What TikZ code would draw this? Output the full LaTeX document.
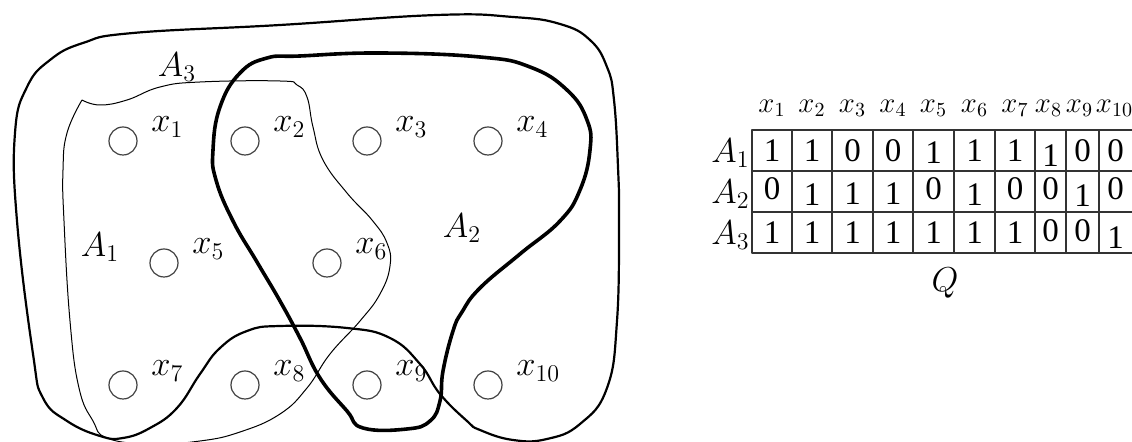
\documentclass[tikz,border=0pt]{standalone}
\usepackage{fontspec}
\setmainfont{Liberation Serif}
\begin{document}
\begin{tikzpicture}[x=0.5pt, y=-0.5pt, font=\fontsize{16.5}{19}\selectfont, line join=round]
  \tikzset{
    elt/.style={circle, draw=black!75, line width=0.6pt, minimum size=14pt, inner sep=0pt},
    eltlbl/.style={anchor=base west, inner sep=0pt},
    thinset/.style={line width=0.5pt},
    midset/.style={line width=1.1pt},
    thickset/.style={line width=1.8pt},
    grid/.style={draw=black!80, line width=0.8pt},
    rowlbl/.style={anchor=east, inner sep=1pt},
    collbl/.style={inner sep=0pt, font=\fontsize{14}{16}\selectfont},
  }
  \useasboundingbox (0,0) rectangle (1132,442);
  % the three sets
  \draw[thinset] plot[smooth, tension=0.75] coordinates {(82,100) (100,105) (127,100) (160,87) (200,82) (280,81) (297,85) (307,97) (313,127) (323,160) (347,193) (372,220) (387,243) (390,266) (380,294) (360,321) (330,354) (307,388) (280,414) (240,432) (200,441) (150,444) (107,438) (93,421) (79,388) (70,321) (64,221) (63,170) (67,133) (82,100)};
  \draw[thickset] plot[smooth cycle, tension=0.75] coordinates {(240,73) (267,58) (300,56) (380,53) (480,57) (530,67) (567,90) (587,120) (590,150) (580,190) (560,221) (520,254) (480,288) (462,312) (453,331) (443,371) (440,401) (430,421) (407,429) (363,428) (347,411) (320,378) (300,338) (280,301) (257,262) (233,221) (216,180) (213,150) (220,107)};
  \draw[midset] plot[smooth cycle, tension=0.75] coordinates {(133,33) (280,25) (437,15) (513,17) (560,24) (590,40) (607,67) (614,100) (618,167) (619,221) (617,321) (607,388) (580,424) (547,439) (513,440) (480,430) (467,421) (440,394) (420,364) (390,338) (347,328) (280,326) (247,331) (220,348) (200,374) (177,408) (150,428) (123,438) (100,436) (67,421) (43,398) (33,354) (17,221) (15,133) (27,87) (50,60) (83,43)};
  \node (a1) at (100,247) {$A_1$};
  \node (a2) at (462,228) {$A_2$};
  \node (a3) at (177,67) {$A_3$};
  % elements
  \foreach \i/\px/\py in {1/123/141, 2/245/141, 3/367/141, 4/488/141, 5/164/263, 6/327/263, 7/123/385, 8/245/385, 9/367/385, 10/488/385} {
    \node[elt] (x\i) at (\px,\py) {};
    \node[eltlbl] (lx\i) at (\px+28,\py-9) {$x_{\i}$};
  }
  % incidence table Q
  \def\colx{{772,812,852.5,893,933.5,974.5,1015,1050.5,1082.5,1115.5}}
  \foreach \cl in {792,832,873,913,954,995,1035,1066,1099}
    \draw[grid] (\cl,130) -- (\cl,253);
  \draw[grid] (1132,130) -- (752,130) -- (752,253) -- (1132,253);
  \draw[grid] (752,171) -- (1132,171);
  \draw[grid] (752,212) -- (1132,212);
  \foreach \i/\dx in {1/0,2/0,3/0,4/0,5/0,6/0,7/0,8/-2,9/-3,10/-1} {
    \pgfmathsetmacro\cx{\colx[\i-1]+\dx}
    \node[collbl] (h\i) at (\cx,108) {$x_{\i}$};
  }
  \foreach \r/\ry/\vals in {1/150.5/{1/0,1/0,0/0,0/0,1/2,1/0,1/0,1/5,0/0,0/0},
                            2/191.5/{0/-3,1/3,1/2,1/2,0/-3,1/3,0/-3,0/-3,1/4,0/-3},
                            3/232.5/{1/0,1/0,1/0,1/0,1/0,1/0,1/0,0/-2,0/-2,1/5}} {
    \node[rowlbl] (r\r) at (752,\ry+3) {$A_{\r}$};
    \foreach \v/\s [count=\c] in \vals {
      \pgfmathsetmacro\cx{\colx[\c-1]}
      \node (q\r-\c) at (\cx,\ry+\s) {\v};
    }
  }
  \node (q) at (945,283) {$Q$};
\end{tikzpicture}
\end{document}
